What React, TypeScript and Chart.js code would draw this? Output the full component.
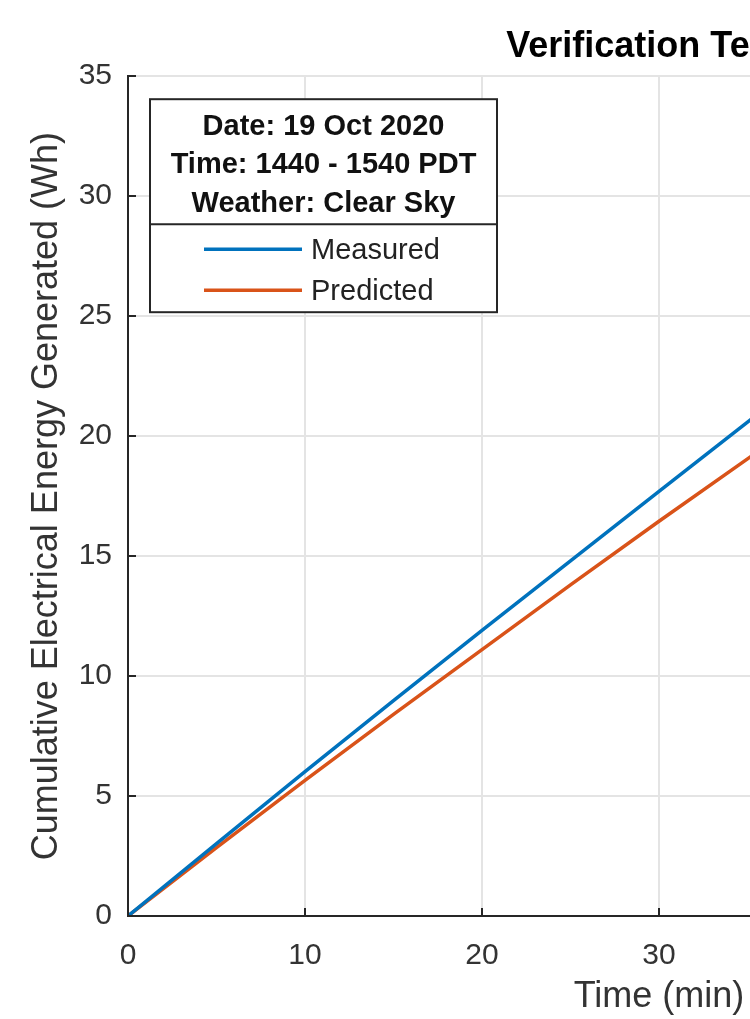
import React, { useEffect, useRef } from "react";
import { Chart, registerables } from "chart.js";

Chart.register(...registerables);

// ---- data ----
const timeMin = [0, 5, 10, 15, 20, 25, 30, 35, 40];
const measuredWh = [0, 3.02, 6.02, 8.98, 11.9, 14.8, 17.7, 20.58, 23.45];
const predictedWh = [0, 2.85, 5.65, 8.4, 11.1, 13.8, 16.45, 19.05, 21.65];
const xTicks = [0, 10, 20, 30, 40, 50, 60];
const yTicks = [0, 5, 10, 15, 20, 25, 30, 35];
const seriesNames = ["Measured", "Predicted"];
const seriesColors = ["#0072BD", "#D95319"];
const infoLines = ["Date: 19 Oct 2020", "Time: 1440 - 1540 PDT", "Weather: Clear Sky"];
const titleText = "Verification Test 1";
const xTitle = "Time (min)";
const yTitle = "Cumulative Electrical Energy Generated (Wh)";

const FONT = '"Liberation Sans", Arial, Helvetica, sans-serif';
const AXIS_COLOR = "#262626";

const decorPlugin = {
  id: "decor",
  afterDraw(chart: any) {
    const { ctx, chartArea: ca, scales } = chart;
    ctx.save();
    // inward tick marks
    ctx.strokeStyle = AXIS_COLOR;
    ctx.lineWidth = 2;
    xTicks.forEach((v) => {
      const px = Math.round(scales.x.getPixelForValue(v));
      ctx.beginPath();
      ctx.moveTo(px, ca.bottom);
      ctx.lineTo(px, ca.bottom - 8);
      ctx.stroke();
    });
    yTicks.forEach((v) => {
      const py = Math.round(scales.y.getPixelForValue(v));
      ctx.beginPath();
      ctx.moveTo(ca.left, py);
      ctx.lineTo(ca.left + 8, py);
      ctx.stroke();
    });

    // info / legend box
    const bx = ca.left + 22;
    const by = ca.top + 23;
    const bw = 347;
    const bh = 213;
    ctx.fillStyle = "#ffffff";
    ctx.fillRect(bx, by, bw, bh);
    ctx.strokeStyle = AXIS_COLOR;
    ctx.lineWidth = 2;
    ctx.strokeRect(bx, by, bw, bh);
    ctx.beginPath();
    ctx.moveTo(bx, by + 125);
    ctx.lineTo(bx + bw, by + 125);
    ctx.stroke();

    ctx.fillStyle = "#111111";
    ctx.font = `bold 29px ${FONT}`;
    ctx.textAlign = "center";
    ctx.textBaseline = "alphabetic";
    const baselines = [36, 74, 113];
    infoLines.forEach((t, i) => ctx.fillText(t, bx + bw / 2, by + baselines[i]));

    const rows = [150, 191];
    ctx.font = `29px ${FONT}`;
    ctx.textAlign = "left";
    ctx.textBaseline = "middle";
    seriesNames.forEach((name, i) => {
      const ds = chart.data.datasets[i];
      ctx.strokeStyle = ds.borderColor;
      ctx.lineWidth = 3.5;
      ctx.beginPath();
      ctx.moveTo(bx + 54, by + rows[i]);
      ctx.lineTo(bx + 152, by + rows[i]);
      ctx.stroke();
      ctx.fillStyle = "#222222";
      ctx.fillText(name, bx + 161, by + rows[i] + 2);
    });
    ctx.restore();
  },
};

export default function App() {
  const canvasRef = useRef<HTMLCanvasElement | null>(null);

  useEffect(() => {
    const canvas = canvasRef.current;
    if (!canvas) return;
    const datasets = [measuredWh, predictedWh].map((vals, i) => ({
      label: seriesNames[i],
      data: timeMin.map((t, j) => ({ x: t, y: vals[j] })),
      borderColor: seriesColors[i],
      backgroundColor: seriesColors[i],
      borderWidth: 3.5,
      pointRadius: 0,
      tension: 0,
      fill: false,
    }));

    const chart = new Chart(canvas, {
      type: "line",
      data: { datasets },
      plugins: [decorPlugin],
      options: {
        animation: false,
        responsive: false,
        devicePixelRatio: 1,
        layout: { padding: { left: 0, right: 70, top: 0, bottom: 0 } },
        plugins: {
          legend: { display: false },
          tooltip: { enabled: false },
          title: {
            display: true,
            text: titleText,
            fullSize: false,
            color: "#000000",
            font: { family: FONT, size: 36, weight: "bold", lineHeight: 1.2 },
            padding: { top: 25, bottom: 8 },
          },
        },
        scales: {
          x: {
            type: "linear",
            min: 0,
            max: 60,
            afterBuildTicks: (s: any) => {
              s.ticks = xTicks.map((v) => ({ value: v }));
            },
            afterFit: (s: any) => {
              s.height = 103;
            },
            grid: { color: "#e4e4e4", lineWidth: 2, drawTicks: false },
            border: { display: true, color: AXIS_COLOR, width: 2 },
            ticks: {
              color: "#333333",
              padding: 22,
              maxRotation: 0,
              font: { family: FONT, size: 30 },
            },
            title: {
              display: true,
              text: xTitle,
              color: "#333333",
              font: { family: FONT, size: 36, lineHeight: 1.2 },
              padding: { top: 0, bottom: 0 },
            },
          },
          y: {
            type: "linear",
            min: 0,
            max: 35,
            afterBuildTicks: (s: any) => {
              s.ticks = yTicks.map((v) => ({ value: v }));
            },
            afterFit: (s: any) => {
              s.width = 128;
            },
            grid: { color: "#e4e4e4", lineWidth: 2, drawTicks: false },
            border: { display: true, color: AXIS_COLOR, width: 2 },
            ticks: {
              color: "#333333",
              padding: 16,
              font: { family: FONT, size: 30 },
            },
            title: {
              display: true,
              text: yTitle,
              color: "#333333",
              font: { family: FONT, size: 36, lineHeight: 1.2 },
              padding: { top: 25, bottom: 0 },
            },
          },
        },
      },
    } as any);
    return () => chart.destroy();
  }, []);

  return (
    <div
      style={{
        position: "fixed",
        left: 0,
        top: 0,
        width: 750,
        height: 1019,
        overflow: "hidden",
        background: "#ffffff",
      }}
    >
      <canvas ref={canvasRef} width={1260} height={1019} style={{ display: "block" }} />
    </div>
  );
}
